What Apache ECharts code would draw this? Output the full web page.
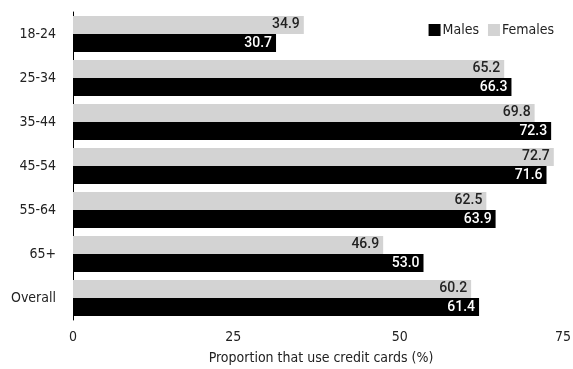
<!DOCTYPE html>
<html>
<head>
<meta charset="utf-8">
<script src="https://cdn.jsdelivr.net/npm/echarts@6/dist/echarts.min.js"></script>
<style>
  html, body { margin: 0; padding: 0; background: #fff; }
  #chart { width: 573px; height: 369px; }
</style>
</head>
<body>
<div id="chart"></div>
<script>
const ageGroups = ['18-24', '25-34', '35-44', '45-54', '55-64', '65+', 'Overall'];
const females = [34.9, 65.2, 69.8, 72.7, 62.5, 46.9, 60.2];
const males = [30.7, 66.3, 72.3, 71.6, 63.9, 53.0, 61.4];
const xTicks = [0, 25, 50, 75];

const narrow = '"Liberation Sans Narrow", "DejaVu Sans Condensed", sans-serif';
const axisText = { fontFamily: narrow, fontSize: 14, color: '#222' };

const chart = echarts.init(document.getElementById('chart'));

// value label drawn inside the bar end
const barLabel = color => ({
  show: true,
  position: 'insideRight',
  distance: 4,
  color: color,
  fontFamily: 'Roboto, sans-serif',
  fontWeight: 500,
  fontSize: 14,
  formatter: p => p.value.toFixed(1)
});

// tick labels in the original sit a few px left of their ticks
const tickShift = { 0: 0, 25: 10, 50: 8, 75: 12 };
const tickRich = {};
xTicks.forEach(t => {
  tickRich['t' + t] = Object.assign({ padding: [0, tickShift[t], 0, 0] }, axisText);
});

const option = {
  animation: false,
  legend: {
    data: ['Males', 'Females'],
    icon: 'rect',
    right: 14,
    top: 18,
    itemWidth: 12,
    itemHeight: 12,
    itemGap: 9,
    textStyle: Object.assign({ padding: [0, 0, 0, -3] }, axisText)
  },
  grid: { left: 73, right: 4, top: 12, bottom: 49, outerBoundsMode: 'none' },
  xAxis: {
    type: 'value',
    min: 0,
    max: 75,
    interval: 25,
    name: 'Proportion that use credit cards (%)',
    nameLocation: 'middle',
    nameGap: 31,
    nameTextStyle: axisText,
    axisLine: { show: false },
    axisTick: { show: false },
    splitLine: { show: false },
    axisLabel: Object.assign({
      margin: 10,
      rich: tickRich,
      formatter: v => xTicks.includes(v) ? '{t' + v + '|' + v + '}' : ''
    }, axisText)
  },
  yAxis: {
    type: 'category',
    data: ageGroups,
    inverse: true,
    axisLine: { show: true, lineStyle: { color: '#000', width: 1 } },
    axisTick: { show: false },
    axisLabel: Object.assign({ margin: 17 }, axisText)
  },
  series: [
    {
      name: 'Females',
      type: 'bar',
      data: females,
      itemStyle: { color: '#d3d3d3' },
      barGap: '0%',
      barCategoryGap: '18%',
      label: barLabel('#222')
    },
    {
      name: 'Males',
      type: 'bar',
      data: males,
      itemStyle: { color: '#000' },
      barGap: '0%',
      barCategoryGap: '18%',
      label: barLabel('#fff')
    }
  ]
};

chart.setOption(option);
</script>
</body>
</html>
